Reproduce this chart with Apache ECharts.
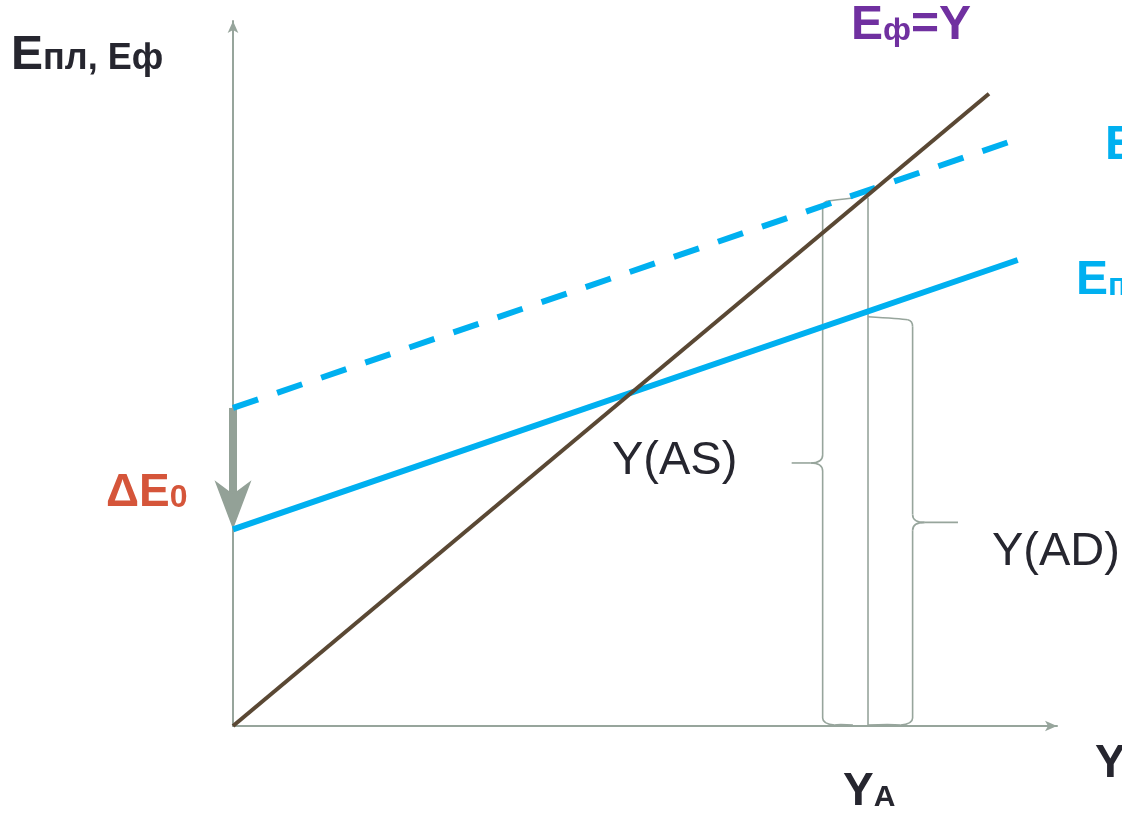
<!DOCTYPE html>
<html>
<head>
<meta charset="utf-8">
<script src="https://cdn.jsdelivr.net/npm/echarts@6/dist/echarts.min.js"></script>
<style>
html,body{margin:0;padding:0;background:#fff;}
#chart{width:1122px;height:816px;}
</style>
</head>
<body>
<div id="chart"></div>
<script>
// ---- data ----
const lineEfY = [[0, 0], [100, 100]];          // Eф = Y (45° line)
const lineEfDashed = [[0, 50.3], [102.5, 92.3]]; // Eф (planned before shift), dashed
const lineEpl = [[0, 31.1], [103.8, 73.7]];     // Eпл (after shift)
const yaLine = [[84, 0], [84, 83.6]];           // Y_A vertical
// braces: spineX, yBottom, yTop, tipX, endX
const braceAS = [78.0, 0, 83.2, 73.9, 82.0];
const braceAD = [89.9, 0, 64.4, 95.9, 84.0];
// shift arrow ΔE0: x, yFrom, yTo
const shiftArrow = [0, 50.3, 31.1];

const xMax = 109, yMax = 111.5;

const FONT = "'Liberation Sans', Arial, Helvetica, sans-serif";
const AXC = '#97a59c';
const BLUE = '#00b0f0';
const BROWN = '#5a4834';
const DARK = '#26262f';

function label(parts, x, baseline, color, weight) {
  const B = Math.max.apply(null, parts.map(p => p.s));
  const rich = {};
  const text = parts.map((p, i) => {
    rich['p' + i] = {
      fontSize: p.s, fontWeight: weight, fontFamily: FONT, fill: color,
      verticalAlign: 'bottom', padding: [0, 0, 0.153 * (B - p.s), 0]
    };
    return '{p' + i + '|' + p.t + '}';
  }).join('');
  return {
    type: 'text', x: x, y: baseline + 0.153 * B, z: 100,
    style: { text: text, rich: rich, verticalAlign: 'bottom', align: 'left',
             fill: color, fontFamily: FONT, fontSize: B, fontWeight: weight }
  };
}

const chart = echarts.init(document.getElementById('chart'), null, {renderer: 'canvas'});

function braceItem(params, api) {
  const p0 = api.coord([api.value(0), api.value(1)]);
  const sx = p0[0], by = p0[1];
  const ty = api.coord([api.value(0), api.value(2)])[1];
  const tx = api.coord([api.value(3), api.value(1)])[0];
  const ex = api.coord([api.value(4), api.value(1)])[0];
  const my = (ty + by) / 2;
  const r = 8;
  const d = ex > sx ? 1 : -1;
  const st = { stroke: AXC, lineWidth: 1.6, fill: null };
  const L = (x1, y1, x2, y2) => ({ type: 'line', shape: {x1, y1, x2, y2}, style: st });
  const Q = (x1, y1, cx, cy, x2, y2) => ({ type: 'bezierCurve', shape: {x1, y1, cpx1: cx, cpy1: cy, x2, y2}, style: st });
  return {
    type: 'group',
    children: [
      Q(ex, ty - 2, sx + d * r * 1.5, ty, sx + d * r * 0.6, ty + 1),
      Q(sx + d * r * 0.6, ty + 1, sx, ty + 2, sx, ty + r),
      L(sx, ty + r, sx, my - r),
      Q(sx, my - r, sx, my, sx - d * r * 1.5, my),
      L(sx - d * r * 1.5, my, tx, my),
      Q(sx - d * r * 1.5, my, sx, my, sx, my + r),
      L(sx, my + r, sx, by - r),
      Q(sx, by - r, sx, by - 2, sx + d * r * 1.5, by - 1),
      Q(sx + d * r * 1.5, by - 1, (sx + ex) / 2, by - 2, ex, by - 1)
    ]
  };
}

function arrowItem(params, api) {
  const p1 = api.coord([api.value(0), api.value(1)]);
  const p2 = api.coord([api.value(0), api.value(2)]);
  const x = p1[0];
  const headH = 49, headW = 18.5, notch = 0.72 * headH, shaftW = 8;
  return {
    type: 'group',
    children: [
      { type: 'rect', shape: { x: x - shaftW / 2, y: p1[1], width: shaftW, height: (p2[1] - notch + 2) - p1[1] },
        style: { fill: '#93a197' } },
      { type: 'polygon', shape: { points: [[x, p2[1]], [x + headW, p2[1] - headH], [x, p2[1] - notch], [x - headW, p2[1] - headH]] },
        style: { fill: '#93a197' } }
    ]
  };
}

const axisCommon = {
  type: 'value', min: 0,
  axisLine: { show: true, onZero: false, symbol: ['none', 'arrow'], symbolSize: [8, 12],
              lineStyle: { color: AXC, width: 2 } },
  axisTick: { show: false }, axisLabel: { show: false }, splitLine: { show: false }
};

chart.setOption({
  animation: false,
  backgroundColor: '#ffffff',
  grid: { left: 233, right: 65, top: 21, bottom: 90, containLabel: false },
  xAxis: Object.assign({}, axisCommon, { max: xMax }),
  yAxis: Object.assign({}, axisCommon, { max: yMax }),
  series: [
    { type: 'line', data: yaLine, symbol: 'none', z: 1,
      lineStyle: { color: AXC, width: 1.6 } },
    { type: 'custom', coordinateSystem: 'cartesian2d', renderItem: braceItem, z: 1,
      data: [braceAS, braceAD] },
    { type: 'custom', coordinateSystem: 'cartesian2d', renderItem: arrowItem, z: 2,
      data: [shiftArrow] },
    { type: 'line', data: lineEfDashed, symbol: 'none', z: 3,
      lineStyle: { color: BLUE, width: 6, type: [26.5, 20.1] } },
    { type: 'line', data: lineEpl, symbol: 'none', z: 3,
      lineStyle: { color: BLUE, width: 6 } },
    { type: 'line', data: lineEfY, symbol: 'none', z: 4,
      lineStyle: { color: BROWN, width: 4 } }
  ],
  graphic: { elements: [
    label([{t: 'E', s: 48}, {t: 'пл, Eф', s: 36}], 11, 72, DARK, 'bold'),
    label([{t: 'E', s: 48}, {t: 'ф', s: 32}, {t: '=Y', s: 48}], 851, 42, '#7030a0', 'bold'),
    label([{t: 'E', s: 48}, {t: 'ф', s: 32}], 1105, 162, BLUE, 'bold'),
    label([{t: 'E', s: 48}, {t: 'пл', s: 32}], 1076, 297, BLUE, 'bold'),
    label([{t: 'ΔE', s: 46}, {t: '0', s: 32}], 106, 509, '#d5553a', 'bold'),
    label([{t: 'Y(AS)', s: 47}], 612, 477, DARK, 'normal'),
    label([{t: 'Y(AD)', s: 47}], 992, 568, DARK, 'normal'),
    label([{t: 'Y', s: 46}, {t: 'A', s: 30}], 843, 808, DARK, 'bold'),
    label([{t: 'Y', s: 46}], 1095, 780, DARK, 'bold')
  ]}
});
</script>
</body>
</html>
